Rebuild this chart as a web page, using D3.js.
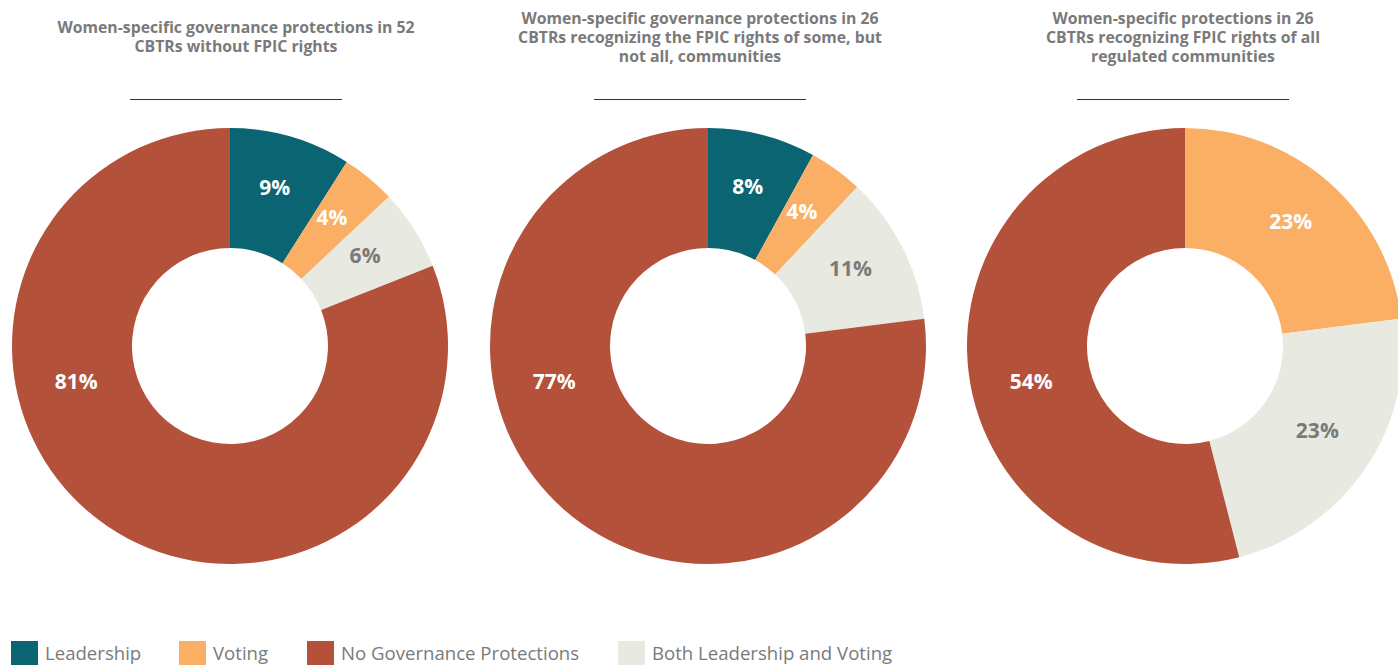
<!DOCTYPE html>
<html>
<head>
<meta charset="utf-8">
<script src="https://cdn.jsdelivr.net/npm/d3@7"></script>
<style>
  html, body { margin: 0; padding: 0; background: #fff; }
  svg { display: block; font-family: "Open Sans", sans-serif; }
</style>
</head>
<body>
<svg id="chart" width="1398" height="665"></svg>
<script>
// Category order (clockwise from 12 o'clock) and colours
const categories = ["Leadership", "Voting", "Both Leadership and Voting", "No Governance Protections"];
const legendOrder = ["Leadership", "Voting", "No Governance Protections", "Both Leadership and Voting"];
const colors = ["#0b6472", "#fbaf64", "#e8e9e1", "#b4513a"];

// Chart titles (one line per entry)
const titles = [
  ["Women-specific governance protections in 52", "CBTRs without FPIC rights"],
  ["Women-specific governance protections in 26", "CBTRs recognizing the FPIC rights of some, but", "not all, communities"],
  ["Women-specific protections in 26", "CBTRs recognizing FPIC rights of all", "regulated communities"]
];

// Percent shares per chart, in the category order above
const noFpic      = [9, 4, 6, 81];
const someFpic    = [8, 4, 11, 77];
const allFpic     = [0, 23, 23, 54];
const seriesValues = [noFpic, someFpic, allFpic];

const svg = d3.select("#chart");
const color = d3.scaleOrdinal().domain(categories).range(colors);

// Layout
const donutCenters = [230, 708, 1185];
const titleCenters = [236, 700, 1183];
const cy = 346, outerR = 218, innerR = 98, labelR = 160;
const lineH = 19;

const pie = d3.pie().sort(null).value(d => d.value);
const arc = d3.arc().innerRadius(innerR).outerRadius(outerR);

seriesValues.forEach((vals, i) => {
  const data = categories.map((c, k) => ({ category: c, value: vals[k] }));

  // title, vertically centred on a common line
  const t = titles[i];
  const title = svg.append("text")
    .attr("text-anchor", "middle")
    .attr("fill", "#7a7a7a")
    .attr("font-weight", 700)
    .attr("font-size", 15.8);
  const firstBaseline = 42.5 - (t.length - 1) * lineH / 2;
  t.forEach((line, j) => {
    title.append("tspan")
      .attr("x", titleCenters[i])
      .attr("y", firstBaseline + j * lineH)
      .text(line);
  });

  // rule under the title
  svg.append("line")
    .attr("x1", titleCenters[i] - 106).attr("x2", titleCenters[i] + 106)
    .attr("y1", 99.5).attr("y2", 99.5)
    .attr("stroke", "#333").attr("stroke-width", 1);

  const g = svg.append("g").attr("transform", `translate(${donutCenters[i]},${cy})`);
  const arcs = pie(data).filter(d => d.data.value > 0);

  g.selectAll("path")
    .data(arcs)
    .join("path")
    .attr("d", arc)
    .attr("fill", d => color(d.data.category));

  g.selectAll("text")
    .data(arcs)
    .join("text")
    .attr("text-anchor", "middle")
    .attr("dy", "0.12em")
    .attr("font-size", 21)
    .attr("font-weight", 700)
    .attr("fill", d => d.data.category === "Both Leadership and Voting" ? "#7a7a7a" : "#fff")
    .attr("transform", d => {
      // large slices get their label on the left side of the ring
      const a = d.data.value > 50 ? -1.8 : (d.startAngle + d.endAngle) / 2;
      const r = d.data.value > 50 ? 158 : labelR;
      const shift = d.data.value > 50 ? 5 : 0;
      return `translate(${r * Math.sin(a)},${-r * Math.cos(a) + shift})`;
    })
    .text(d => d.data.value + "%");
});

// Legend
const legendX = [11, 179, 307, 618];
const legend = svg.append("g");
legendOrder.forEach((c, i) => {
  legend.append("rect")
    .attr("x", legendX[i]).attr("y", 641)
    .attr("width", 27).attr("height", 27)
    .attr("fill", color(c));
  legend.append("text")
    .attr("x", legendX[i] + 34).attr("y", 660)
    .attr("font-size", 18.6)
    .attr("fill", "#7a7a7a")
    .text(c);
});
</script>
</body>
</html>
